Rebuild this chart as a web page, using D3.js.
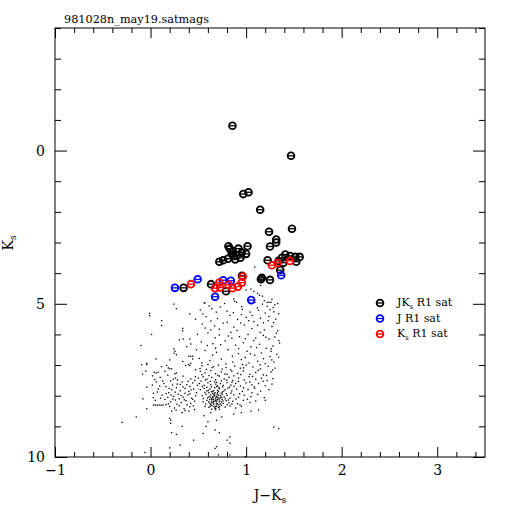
<html>
<head>
<meta charset="utf-8">
<style type="text/css">
  body { margin: 0; background: #fff; }
  text { font-family: "DejaVu Serif", serif; fill: #000; }
  .axis path, .axis line { stroke: #000; stroke-width: 1px; }
  .axis text { font-family: "DejaVu Serif", serif; font-size: 14px; }
</style>
<script src="https://d3js.org/d3.v7.min.js"></script>
</head>
<body>
<script type="text/javascript">

// faint stars (J-Ks, Ks)
var dots = [
  [0.56,4.97],[0.88,4.92],[1.09,4.96],[1.17,5.01],[1.26,4.95],[1.3,5.03],[1.33,4.99],
  [0.52,5.2],[0.64,5.16],[0.8,5.24],[0.96,5.18],[1.04,5.27],[1.13,5.21],[1.2,5.3],[1.25,5.19],[1.29,5.26],[1.34,5.32],
  [0.58,5.42],[0.7,5.48],[0.83,5.38],[0.91,5.51],[1.0,5.44],[1.08,5.58],[1.15,5.47],[1.23,5.55],[1.31,5.5],
  [0.54,5.66],[0.67,5.72],[0.76,5.63],[0.87,5.76],[0.98,5.69],[1.06,5.81],[1.12,5.7],[1.19,5.85],[1.27,5.74],[1.33,5.88],
  [0.6,5.95],[0.72,6.02],[0.84,5.93],[0.93,6.07],[1.02,6.0],[1.1,6.12],[1.18,6.03],[1.24,6.15],[1.3,6.08],
  [0.53,6.24],[0.65,6.3],[0.78,6.21],[0.89,6.35],[0.97,6.27],[1.05,6.4],[1.14,6.32],[1.21,6.45],[1.28,6.38],[1.35,6.28],
  [0.57,6.52],[0.69,6.58],[0.81,6.5],[0.92,6.63],[1.01,6.55],[1.09,6.68],[1.16,6.6],[1.25,6.72],[1.32,6.65],
  [0.51,6.78],[0.62,6.85],[0.74,6.8],[0.86,6.9],[0.95,6.82],[1.03,6.93],[1.12,6.87],[1.2,6.95],[1.29,6.9],
  [0.73,5.1],[1.22,5.08],[0.95,5.35],[1.18,5.62],[0.63,5.85],[1.08,6.2],[0.85,6.12],[1.26,6.55],[0.99,6.75],[0.68,6.45],
  [0.613,5.07],[0.774,4.99],[0.952,5.09],[1.118,5.13],[1.283,5.12],[0.547,5.33],[0.687,5.27],[0.866,5.29],[1.062,5.38],[1.239,5.41],
  [0.631,5.56],[0.802,5.6],[0.943,5.62],[1.027,5.55],[1.287,5.61],[0.571,5.79],[0.718,5.83],[0.904,5.87],[1.147,5.93],[1.316,5.96],
  [0.676,6.11],[0.813,6.05],[0.991,6.14],[1.207,6.09],[1.342,6.2],[0.594,6.36],[0.733,6.33],[0.922,6.46],[1.109,6.43],[1.263,6.47],
  [0.649,6.67],[0.856,6.71],[1.044,6.63],[1.181,6.79],[1.339,6.74],[0.537,6.93],[0.787,6.96],[0.963,6.98],[1.146,6.99],[1.268,6.83],
  [0.54,7.02],[0.6,6.98],[0.66,7.05],[0.71,7.0],[0.79,7.08],[0.88,7.03],[0.94,7.1],[1.0,7.0],[1.07,7.06],[1.15,7.12],[1.23,7.04],[1.3,7.1],
  [0.52,7.2],[0.57,7.25],[0.63,7.18],[0.68,7.28],[0.74,7.22],[0.8,7.3],[0.85,7.2],[0.91,7.27],[0.97,7.19],[1.04,7.3],[1.1,7.24],[1.18,7.32],[1.26,7.22],
  [0.5,7.42],[0.55,7.38],[0.59,7.46],[0.64,7.4],[0.68,7.48],[0.72,7.36],[0.77,7.45],[0.82,7.4],[0.86,7.5],[0.92,7.42],[0.98,7.48],[1.03,7.38],[1.1,7.46],[1.16,7.42],[1.22,7.5],[1.28,7.44],
  [0.51,7.6],[0.56,7.66],[0.6,7.58],[0.63,7.64],[0.67,7.55],[0.7,7.68],[0.73,7.6],[0.76,7.66],[0.8,7.57],[0.84,7.65],[0.89,7.6],[0.94,7.68],[1.0,7.58],[1.06,7.64],[1.13,7.6],[1.2,7.67],[1.27,7.62],
  [0.52,7.8],[0.56,7.76],[0.59,7.84],[0.62,7.78],[0.65,7.86],[0.67,7.74],[0.7,7.82],[0.72,7.77],[0.75,7.88],[0.78,7.8],[0.81,7.75],[0.85,7.84],[0.9,7.78],[0.96,7.86],[1.02,7.8],[1.09,7.76],[1.15,7.85],[1.24,7.8],
  [0.54,8.0],[0.58,7.95],[0.61,8.03],[0.63,7.97],[0.65,8.06],[0.67,7.94],[0.69,8.02],[0.71,7.98],[0.73,8.07],[0.75,7.96],[0.77,8.04],[0.8,7.99],[0.83,8.08],[0.87,7.97],[0.92,8.05],[0.98,7.98],[1.05,8.03],[1.12,7.96],[1.19,8.06],
  [0.55,8.2],[0.59,8.15],[0.62,8.24],[0.64,8.13],[0.66,8.22],[0.68,8.17],[0.7,8.26],[0.72,8.14],[0.74,8.2],[0.76,8.25],[0.79,8.16],[0.82,8.23],[0.86,8.18],[0.91,8.26],[0.97,8.15],[1.04,8.22],[1.1,8.17],
  [0.57,8.35],[0.61,8.38],[0.64,8.32],[0.67,8.4],[0.69,8.34],[0.71,8.38],[0.74,8.31],[0.78,8.37],[0.83,8.33],[0.89,8.4],[0.95,8.35],
  [0.64,8.1],[0.66,8.18],[0.68,8.08],[0.7,8.12],[0.69,8.2],[0.66,8.28],[0.71,8.3],[0.63,8.28],[0.67,8.0],[0.65,7.92],[0.7,7.9],[0.72,8.2],
  [0.68,8.35],[0.62,8.12],[0.73,8.0],[0.66,7.83],[0.69,7.7],[0.61,7.9],[0.75,8.12],[0.64,8.44],[0.68,8.46],[0.72,8.44],
  [0.517,7.11],[0.584,7.14],[0.643,7.08],[0.749,7.13],[0.837,7.15],[0.973,7.09],[1.126,7.17],[1.277,7.16],[0.537,7.31],[0.612,7.34],
  [0.704,7.33],[0.778,7.29],[0.871,7.35],[0.944,7.31],[1.066,7.37],[1.213,7.34],[0.528,7.52],[0.573,7.49],[0.624,7.53],[0.693,7.56],
  [0.741,7.51],[0.797,7.49],[0.852,7.56],[0.918,7.53],[1.038,7.55],[1.178,7.53],[0.542,7.7],[0.588,7.72],[0.637,7.71],[0.682,7.62],
  [0.716,7.73],[0.754,7.71],[0.826,7.72],[0.873,7.69],[0.973,7.74],[1.082,7.71],[0.567,7.89],[0.604,7.83],[0.636,7.87],[0.674,7.9],
  [0.709,7.86],[0.738,7.92],[0.766,7.85],[0.794,7.93],[0.841,7.91],[0.931,7.93],[1.061,7.9],[0.553,8.09],[0.597,8.07],[0.628,8.05],
  [0.657,8.12],[0.687,8.04],[0.714,8.09],[0.744,8.05],[0.781,8.1],[0.814,8.14],[0.894,8.11],[1.013,8.11],[0.576,8.27],[0.608,8.2],
  [0.639,8.19],[0.662,8.35],[0.693,8.14],[0.728,8.27],[0.757,8.17],[0.801,8.29],[0.851,8.27],[0.936,8.3],[0.654,8.03],[0.676,8.14],
  [0.703,8.05],[0.642,8.23],[0.688,8.27],[0.721,8.36],[0.661,7.97],[0.697,7.95],[0.623,8.34],[0.682,8.41],
  [0.02,7.35],[0.1,7.4],[0.18,7.33],[0.26,7.42],[0.34,7.36],[0.42,7.45],[0.47,7.38],
  [0.06,7.55],[0.14,7.6],[0.21,7.52],[0.28,7.62],[0.33,7.55],[0.38,7.64],[0.44,7.58],[0.49,7.66],
  [-0.04,7.72],[0.08,7.78],[0.16,7.7],[0.22,7.8],[0.27,7.74],[0.31,7.84],[0.36,7.76],[0.4,7.86],[0.45,7.78],[0.48,7.9],
  [0.03,7.92],[0.12,7.98],[0.19,7.9],[0.24,8.02],[0.29,7.95],[0.34,8.05],[0.39,7.97],[0.43,8.08],[0.47,8.0],
  [-0.08,8.1],[0.05,8.15],[0.15,8.12],[0.21,8.2],[0.26,8.14],[0.32,8.22],[0.37,8.16],[0.42,8.25],[0.46,8.18],
  [0.03,8.3],[0.05,8.3],[0.07,8.31],[0.09,8.3],[0.11,8.31],[0.13,8.3],[0.16,8.29],
  [0.2,8.35],[0.25,8.4],[0.3,8.33],[0.35,8.42],[0.41,8.36],[0.46,8.45],[0.22,8.5],[0.33,8.55],[0.4,8.5],
  [0.28,7.48],[0.36,7.92],[0.3,8.1],[0.23,7.65],[0.41,7.7],[0.18,8.05],
  [0.044,7.47],[0.127,7.52],[0.237,7.46],[0.311,7.63],[0.392,7.53],[0.463,7.5],[0.018,7.65],[0.096,7.68],[0.193,7.76],[0.257,7.88],
  [0.339,7.71],[0.423,7.81],[0.071,7.88],[0.163,7.93],[0.214,7.97],[0.318,7.99],[0.412,7.94],[0.028,8.06],[0.104,8.08],[0.233,8.11],
  [0.353,8.13],[0.441,8.12],[0.186,8.26],[0.276,8.28],[0.382,8.3],[0.448,8.33],[0.267,8.47],[0.361,8.48],
  [0.245,5.01],[0.27,5.16],[-0.01,5.31],[-0.01,5.39],[0.41,5.33],[0.115,5.55],[0.115,5.71],[0.336,5.8],[0.336,5.88],[0.01,6.0],
  [0.3,6.18],[0.343,6.15],[0.41,6.15],[0.42,6.31],[-0.1,6.36],[0.378,6.4],[0.245,6.47],[0.255,6.55],[0.245,6.61],[0.27,6.66],
  [0.4,6.71],[0.42,6.71],[0.44,6.71],[0.056,6.8],[0.44,6.8],[0.2,6.83],[0.336,6.88],[-0.04,6.94],[-0.04,6.98],[-0.094,6.99],
  [0.115,7.05],[0.168,7.01],[0.186,7.09],[0.2,7.12],[0.22,7.12],[0.367,7.01],[0.396,6.98],[0.41,7.01],[0.42,6.94],[-0.05,7.2],
  [0.04,7.23],[0.06,7.26],[0.08,7.23],[0.15,7.2],[0.27,7.26],[0.255,7.28],[-0.085,7.3],[0.47,5.5],[0.49,6.0],[0.48,6.5],[0.47,7.15],
  [-0.04,8.42],[-0.15,8.69],[-0.3,8.87],[0.2,8.74],[0.21,8.8],[0.27,9.26],[0.45,9.45],[0.31,9.61],[0.2,9.7],[-0.06,9.85],
  [0.6,8.85],[0.69,8.8],[0.745,8.69],[0.55,9.23],[0.675,9.12],[0.83,9.34],[0.83,9.55],[0.69,9.66],[0.675,9.72],[0.71,9.93],
  [0.83,9.93],[0.99,9.99],[1.13,8.47],[1.29,9.02],[1.34,9.07],[1.2,8.15],
  [0.21,8.9],[0.63,8.55],[0.72,9.2],[0.8,9.45],[0.58,9.0],[0.22,9.2],[0.33,9.0],[0.56,8.65],[0.87,8.6],[0.95,8.55],[1.05,8.5],
  [1.09,3.8],[1.05,4.52],[1.08,4.6],[1.12,4.66],[1.14,4.72],[1.17,4.75],[1.19,4.9],[1.22,4.95],[1.24,4.95],[1.27,4.85],
  [1.03,4.95],[0.87,4.84],[0.9,4.95],[0.57,4.97],[1.15,4.4],[1.0,4.55]
];

// saturated in J and Ks
var jkSat = [
  [0.857,-0.81],[1.47,0.17],[0.97,1.42],[1.025,1.36],[1.147,1.93],[1.24,2.65],[1.48,2.55],
  [1.315,2.9],[1.315,3.0],[1.25,3.13],
  [0.815,3.12],[1.015,3.12],[0.86,3.28],[0.92,3.2],[0.87,3.44],[1.0,3.37],[0.885,3.55],[0.81,3.53],
  [0.76,3.58],[0.72,3.63],[0.85,3.37],[0.955,3.33],[0.83,3.2],[0.9,3.42],[0.94,3.5],
  [1.41,3.39],[1.46,3.44],[1.515,3.47],[1.56,3.47],[1.525,3.63],[1.375,3.5],[1.34,3.6],[1.225,3.58],[1.39,3.66],
  [1.357,3.9],[1.165,4.15],[1.155,4.2],[1.25,4.22],[0.633,4.36],[0.79,4.59],[0.346,4.48],[0.957,4.09]
];

// saturated in J only
var jSat = [
  [0.255,4.48],[0.493,4.2],[0.76,4.23],[0.84,4.25],[0.675,4.77],[1.053,4.88],[1.367,4.07]
];

// saturated in Ks only
var ksSat = [
  [0.423,4.36],[0.72,4.31],[0.675,4.49],[0.727,4.47],[0.815,4.38],[0.857,4.49],[0.913,4.44],
  [0.955,4.31],[0.965,4.11],[1.27,3.74],[1.33,3.67],[1.46,3.6]
];

var xMajor = [-1, 0, 1, 2, 3];
var yMajor = [0, 5, 10];
var legendNames = ["JK_s R1 sat", "J R1 sat", "K_s R1 sat"];
var legendColors = ["#000000", "#0000ff", "#ff0000"];
var title = "981028n_may19.satmags";

var width = 512, height = 512;
var plotLeft = 55, plotRight = 485, plotTop = 28, plotBottom = 457;

var x = d3.scaleLinear().domain([-1, 3.5]).range([plotLeft, plotRight]);
var y = d3.scaleLinear().domain([-4, 10]).range([plotTop, plotBottom]);

var xMinor = d3.range(-1, 3.55, 0.2).filter(function(v) { return Math.abs(v - Math.round(v)) > 0.01; });
var yMinor = d3.range(-4, 10.5, 1).filter(function(v) { return v % 5 != 0; });
var intFmt = d3.format('d');

var svg = d3.select('body').append('svg')
  .attr('width', width)
  .attr('height', height);

svg.append('rect')
  .attr('x', plotLeft).attr('y', plotTop)
  .attr('width', plotRight - plotLeft).attr('height', plotBottom - plotTop)
  .attr('fill', 'none').attr('stroke', '#000').attr('stroke-width', 1);

function addAxis(axis, tx, ty) {
  var g = svg.append('g').attr('class', 'axis')
    .attr('transform', 'translate(' + tx + ',' + ty + ')')
    .call(axis);
  g.select('.domain').remove();
  return g;
}

// bottom / top
addAxis(d3.axisBottom(x).tickValues(xMajor).tickSize(-10).tickPadding(8).tickFormat(intFmt), 0, plotBottom);
addAxis(d3.axisBottom(x).tickValues(xMinor).tickSize(-5).tickFormat(''), 0, plotBottom);
addAxis(d3.axisTop(x).tickValues(xMajor).tickSize(-10).tickFormat(''), 0, plotTop);
addAxis(d3.axisTop(x).tickValues(xMinor).tickSize(-5).tickFormat(''), 0, plotTop);
// left / right
addAxis(d3.axisLeft(y).tickValues(yMajor).tickSize(-12).tickPadding(10).tickFormat(intFmt), plotLeft, 0);
addAxis(d3.axisLeft(y).tickValues(yMinor).tickSize(-6).tickFormat(''), plotLeft, 0);
addAxis(d3.axisRight(y).tickValues(yMajor).tickSize(-12).tickFormat(''), plotRight, 0);
addAxis(d3.axisRight(y).tickValues(yMinor).tickSize(-6).tickFormat(''), plotRight, 0);

// faint stars
svg.append('g').selectAll('rect')
  .data(dots)
  .enter()
  .append('rect')
    .attr('x', function(d) { return x(d[0]) - 0.6; })
    .attr('y', function(d) { return y(d[1]) - 0.6; })
    .attr('width', 1.3)
    .attr('height', 1.3)
    .attr('fill', '#000');

function marker(g, color) {
  g.append('circle')
    .attr('r', 3.4)
    .attr('fill', 'none')
    .attr('stroke', color)
    .attr('stroke-width', 1.8);
  g.append('line')
    .attr('x1', -3.2).attr('x2', 3.2)
    .attr('y1', 0).attr('y2', 0)
    .attr('stroke', color)
    .attr('stroke-width', 1.3);
}

function drawSet(data, color) {
  svg.append('g').selectAll('g')
    .data(data)
    .enter()
    .append('g')
      .attr('transform', function(d) { return 'translate(' + x(d[0]) + ',' + y(d[1]) + ')'; })
      .each(function() { marker(d3.select(this), color); });
}

drawSet(jkSat, legendColors[0]);
drawSet(jSat, legendColors[1]);
drawSet(ksSat, legendColors[2]);

// legend
legendNames.forEach(function(name, i) {
  var ly = 303 + i * 15.5;
  var g = svg.append('g').attr('transform', 'translate(380,' + ly + ')');
  marker(g, legendColors[i]);
  var t = svg.append('text')
    .attr('x', 397)
    .attr('y', ly + 3)
    .style('font-size', '11px');
  var parts = name.split('_s');
  t.append('tspan').text(parts[0]);
  if (parts.length > 1) {
    t.append('tspan').attr('dy', 3).style('font-size', '7px').text('s');
    t.append('tspan').attr('dy', -3).text(parts[1]);
  }
});

// title
svg.append('text')
  .text(title)
  .attr('x', 64)
  .attr('y', 23)
  .attr('textLength', 145)
  .attr('lengthAdjust', 'spacingAndGlyphs')
  .style('font-size', '11px');

// axis titles
var xt = svg.append('text')
  .attr('x', 270)
  .attr('y', 500)
  .attr('text-anchor', 'middle')
  .style('font-size', '14px');
xt.append('tspan').text('J\u2212K');
xt.append('tspan').attr('dy', 3).style('font-size', '9px').text('s');

var yt = svg.append('text')
  .attr('transform', 'translate(13,243) rotate(-90)')
  .attr('text-anchor', 'middle')
  .style('font-size', '14px');
yt.append('tspan').text('K');
yt.append('tspan').attr('dy', 3).style('font-size', '9px').text('s');

</script>
</body>
</html>
